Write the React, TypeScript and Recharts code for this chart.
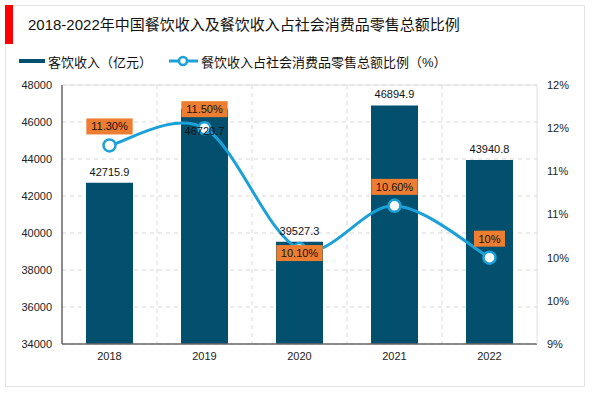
import React from 'react';
import {
  ComposedChart,
  Bar,
  Line,
  XAxis,
  YAxis,
  CartesianGrid,
  LabelList,
  ReferenceLine,
} from 'recharts';

const years = ['2018', '2019', '2020', '2021', '2022'];
const revenue = [42715.9, 46720.7, 39527.3, 46894.9, 43940.8];
const ratio = [11.3, 11.5, 10.1, 10.6, 10.0];
const ratioLabels = ['11.30%', '11.50%', '10.10%', '10.60%', '10%'];
const leftTicks = [34000, 36000, 38000, 40000, 42000, 44000, 46000, 48000];
const rightTicks = [9, 9.5, 10, 10.5, 11, 11.5, 12];

const title = '2018-2022年中国餐饮收入及餐饮收入占社会消费品零售总额比例';
const barName = '客饮收入（亿元）';
const lineName = '餐饮收入占社会消费品零售总额比例（%）';

const data = years.map((y, i) => ({
  year: y,
  revenue: revenue[i],
  ratio: ratio[i],
  ratioLabel: ratioLabels[i],
}));

const BAR_COLOR = '#02506D';
const LINE_COLOR = '#1BA1D8';
const ORANGE = '#ED7D31';
const FONT = "'Liberation Sans', Arial, 'Noto Sans CJK SC', sans-serif";

// Catmull-Rom style smoothing (similar to spreadsheet "smoothed line")
const smoothCurve = (context: any) => {
  let pts: number[][] = [];
  return {
    areaStart() {},
    areaEnd() {},
    lineStart() {
      pts = [];
    },
    point(x: number, y: number) {
      pts.push([+x, +y]);
    },
    lineEnd() {
      const n = pts.length;
      if (!n) return;
      context.moveTo(pts[0][0], pts[0][1]);
      for (let i = 0; i < n - 1; i++) {
        const p0 = pts[Math.max(0, i - 1)];
        const p1 = pts[i];
        const p2 = pts[i + 1];
        const p3 = pts[Math.min(n - 1, i + 2)];
        context.bezierCurveTo(
          p1[0] + (p2[0] - p0[0]) / 6,
          p1[1] + (p2[1] - p0[1]) / 6,
          p2[0] - (p3[0] - p1[0]) / 6,
          p2[1] - (p3[1] - p1[1]) / 6,
          p2[0],
          p2[1]
        );
      }
    },
  };
};

const textWidth = (s: string, size: number) => {
  let w = 0;
  for (const c of s) {
    if (c === '.') w += 0.278;
    else if (c === '%') w += 0.889;
    else w += 0.556;
  }
  return w * size;
};

const BarValueLabel = (props: any) => {
  const { x, y, width, value, index } = props;
  const cx = Number(x) + Number(width) / 2;
  const cy = Number(y) + (index === 1 ? 22 : -11);
  return (
    <text
      x={cx}
      y={cy}
      textAnchor="middle"
      dominantBaseline="central"
      fontSize={11}
      fill="#111"
      fontFamily={FONT}
    >
      {value}
    </text>
  );
};

const RatioLabel = (props: any) => {
  const { x, y, value, index } = props;
  const cx = Number(x);
  const cy = Number(y) + (index === 2 ? 4 : -19);
  const w = textWidth(String(value), 11) + 9;
  const h = 16;
  return (
    <g>
      <rect x={cx - w / 2} y={cy - h / 2} width={w} height={h} fill={ORANGE} />
      <text
        x={cx}
        y={cy}
        textAnchor="middle"
        dominantBaseline="central"
        fontSize={11}
        fill="#111"
        fontFamily={FONT}
      >
        {value}
      </text>
    </g>
  );
};

const vGen = (p: any) => {
  const { offset } = p;
  return [1, 2, 3, 4].map((i) => offset.left + (offset.width * i) / years.length);
};

export default function App() {
  return (
    <div
      style={{
        position: 'absolute',
        left: 0,
        top: 0,
        width: 600,
        height: 393,
        background: '#fff',
        fontFamily: FONT,
      }}
    >
      <div
        style={{
          position: 'absolute',
          left: 5,
          top: 5,
          width: 580,
          height: 382,
          border: '1px solid #e3e3e3',
          boxSizing: 'border-box',
        }}
      />
      <div
        style={{
          position: 'absolute',
          left: 5,
          top: 5,
          width: 8,
          height: 39,
          background: '#FF0000',
        }}
      />
      <div
        style={{
          position: 'absolute',
          left: 28,
          top: 15,
          height: 20,
          lineHeight: '20px',
          fontSize: 15,
          color: '#111',
          whiteSpace: 'nowrap',
        }}
      >
        {title}
      </div>
      <div
        style={{
          position: 'absolute',
          left: 19,
          top: 51,
          height: 20,
          display: 'flex',
          alignItems: 'center',
          fontSize: 13,
          color: '#111',
          whiteSpace: 'nowrap',
        }}
      >
        <svg width={27} height={20} style={{ marginRight: 2 }}>
          <rect x={0} y={8} width={26} height={4} fill={BAR_COLOR} />
        </svg>
        <span>{barName}</span>
        <svg width={30} height={20} style={{ marginLeft: 17, marginRight: 2 }}>
          <line x1={0} y1={10} x2={29} y2={10} stroke={LINE_COLOR} strokeWidth={3} />
          <circle cx={14} cy={10} r={4} fill="#fff" stroke={LINE_COLOR} strokeWidth={2.5} />
        </svg>
        <span>{lineName}</span>
      </div>
      <div style={{ position: 'absolute', left: 0, top: 0 }}>
        <ComposedChart
          width={600}
          height={393}
          data={data}
          margin={{ top: 85, right: 0, bottom: 19, left: 0 }}
          barCategoryGap={0}
        >
          <CartesianGrid
            yAxisId="left"
            stroke="#d6d6d6"
            strokeDasharray="4 4"
            verticalCoordinatesGenerator={vGen}
          />
          <XAxis
            dataKey="year"
            height={30}
            tickLine={false}
            axisLine={{ stroke: '#666', strokeWidth: 1.5 }}
            tick={{ fontSize: 11, fill: '#222', fontFamily: FONT }}
          />
          <YAxis
            yAxisId="left"
            orientation="left"
            width={62}
            domain={[34000, 48000]}
            ticks={leftTicks}
            tickLine={false}
            tickMargin={4}
            axisLine={{ stroke: '#666', strokeWidth: 1.5 }}
            tick={{ fontSize: 11, fill: '#222', fontFamily: FONT }}
            allowDataOverflow
          />
          <YAxis
            yAxisId="right"
            orientation="right"
            width={63}
            domain={[9, 12]}
            ticks={rightTicks}
            tickFormatter={(v: number) => `${Math.round(v)}%`}
            tickLine={false}
            tickMargin={4}
            axisLine={{ stroke: '#e0e0e0' }}
            tick={{ fontSize: 11, fill: '#222', fontFamily: FONT, textAnchor: 'start' }}
            allowDataOverflow
          />
          <ReferenceLine yAxisId="left" y={48000} stroke="#e0e0e0" />
          <Bar
            yAxisId="left"
            dataKey="revenue"
            fill={BAR_COLOR}
            barSize={47}
            isAnimationActive={false}
          >
            <LabelList dataKey="revenue" content={BarValueLabel} />
          </Bar>
          <Line
            yAxisId="right"
            type={smoothCurve as any}
            dataKey="ratio"
            stroke={LINE_COLOR}
            strokeWidth={3}
            dot={{ r: 6, fill: '#fff', stroke: LINE_COLOR, strokeWidth: 2.5 }}
            activeDot={false}
            isAnimationActive={false}
          >
            <LabelList dataKey="ratioLabel" content={RatioLabel} />
          </Line>
        </ComposedChart>
      </div>
    </div>
  );
}
